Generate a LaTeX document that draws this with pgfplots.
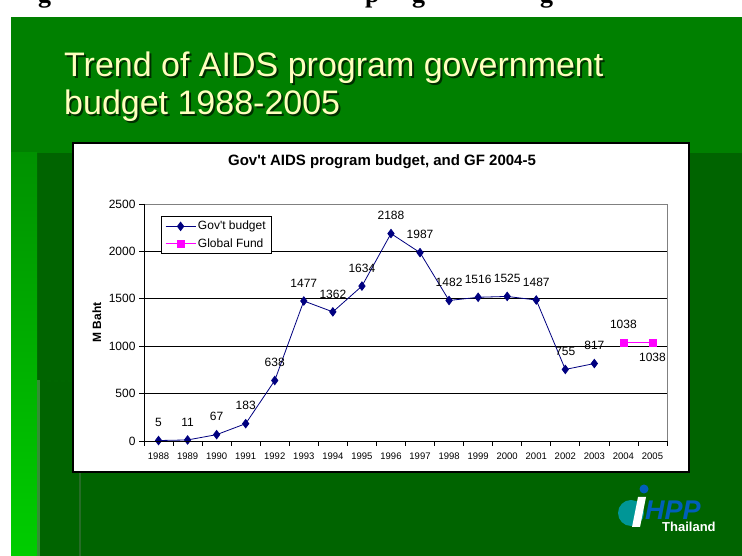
\documentclass[border=0pt]{standalone}
\usepackage{pgfplots}
\pgfplotsset{compat=1.18}
\usepackage{pgfplotstable}
\usepackage{fontspec}
\setmainfont{Liberation Sans}
\newfontfamily\serifb{Liberation Serif}
\definecolor{gmain}{RGB}{0,128,0}
\definecolor{gdark}{RGB}{0,100,0}
\definecolor{gstripTop}{RGB}{0,145,0}
\definecolor{gstripBot}{RGB}{0,205,0}
\definecolor{navyc}{RGB}{0,0,128}
\definecolor{magc}{RGB}{255,0,255}
\definecolor{titley}{RGB}{255,255,190}
\definecolor{shadowc}{RGB}{0,45,0}
\definecolor{logoteal}{RGB}{0,150,150}
\definecolor{logoblue}{RGB}{0,95,185}

\pgfplotstableread{
x y
0 5
1 11
2 67
3 183
4 638
5 1477
6 1362
7 1634
8 2188
9 1987
10 1482
11 1516
12 1525
13 1487
14 755
15 817
}\govtable
\pgfplotstableread{
x y dy
16 1038 18
17 1038 -15
}\gftable

\begin{document}
\begin{tikzpicture}
\useasboundingbox (0,0) rectangle (742pt,556pt);
\begin{scope}[shift={(0pt,556pt)}, x=1pt, y=-1pt]
  \fill[white] (0,0) rectangle (742,556);
  % cut-off heading fragments at the very top
  \begin{scope}
    \clip (0,0) rectangle (742,17);
    \node[anchor=base west, inner sep=0pt, font=\serifb\bfseries\fontsize{26}{30}\selectfont] at (38,3) {g};
    \node[anchor=base west, inner sep=0pt, font=\serifb\bfseries\fontsize{26}{30}\selectfont] at (365,3) {p};
    \node[anchor=base west, inner sep=0pt, font=\serifb\bfseries\fontsize{26}{30}\selectfont] at (412,3) {g};
    \node[anchor=base west, inner sep=0pt, font=\serifb\bfseries\fontsize{26}{30}\selectfont] at (540,3) {g};
  \end{scope}
  \fill[gmain] (11,17) rectangle (742,556);
  \fill[gdark] (37,153) rectangle (742,556);
  \shade[top color=gstripTop, bottom color=gstripBot] (11,153) rectangle (37,556);
  \fill[green!45!black!80] (37,380) rectangle (40,556);
  \draw[gdark!70!gray, line width=1.5pt] (80,472) -- (80,556);
  \draw[black!60!green, line width=2pt, dash pattern=on 4pt off 3pt] (47,381) -- (72,381);
  % slide title with shadow
  \node[anchor=base west, inner sep=0pt, text=shadowc, font=\fontsize{34}{40}\selectfont] at (66,79) {Trend of AIDS program government};
  \node[anchor=base west, inner sep=0pt, text=titley, font=\fontsize{34}{40}\selectfont] at (64,77) {Trend of AIDS program government};
  \node[anchor=base west, inner sep=0pt, text=shadowc, font=\fontsize{34}{40}\selectfont] at (66,117) {budget 1988-2005};
  \node[anchor=base west, inner sep=0pt, text=titley, font=\fontsize{34}{40}\selectfont] at (64,115) {budget 1988-2005};
  % chart frame
  \filldraw[fill=white, draw=black, line width=1.5pt] (73,143) rectangle (689,472);
  \node[font=\bfseries\fontsize{15}{18}\selectfont] at (382,162) {Gov\textquotesingle t AIDS program budget, and GF 2004-5};
  % logo
  \fill[logoteal] (631,513) circle (13);
  \fill[white] (638,497) -- (646,497) -- (640,527) -- (632,527) -- cycle;
  \fill[logoblue] (644,489) circle (4.5);
  \node[anchor=base west, inner sep=0pt, text=logoblue, font=\bfseries\itshape\fontsize{27}{30}\selectfont] at (645,520) {HPP};
  \node[anchor=base west, inner sep=0pt, text=white, font=\bfseries\fontsize{13}{15}\selectfont] at (662,532) {Thailand};
\end{scope}

\begin{axis}[
  at={(144pt,115pt)}, anchor=south west,
  width=523pt, height=237pt, scale only axis,
  xmin=-0.5, xmax=17.5, ymin=0, ymax=2500,
  clip=false,
  axis line style={draw=none},
  tick pos=left, tick align=outside,
  major tick length=5pt, minor tick length=5pt,
  xtick={0,...,17},
  xticklabels={1988,1989,1990,1991,1992,1993,1994,1995,1996,1997,1998,1999,2000,2001,2002,2003,2004,2005},
  major x tick style={draw=none},
  minor xtick={-0.5,0.5,...,17.5},
  minor x tick style={black, line width=0.75pt},
  ytick={0,500,...,2500},
  ytick style={black, line width=0.75pt},
  ymajorgrids, grid style={black, line width=0.75pt},
  /pgf/number format/assume math mode=true,
  /pgf/number format/1000 sep={},
  xticklabel style={font=\fontsize{9.5}{10}\selectfont, yshift=-3pt},
  yticklabel style={font=\fontsize{12}{14}\selectfont},
  ylabel={M Baht},
  ylabel style={at={(axis description cs:-0.09,0.5)}, anchor=center, font=\bfseries\fontsize{12}{14}\selectfont},
  legend style={at={(axis description cs:0.0325,0.949)}, anchor=north west, draw=black, fill=white,
    font=\fontsize{12}{14}\selectfont, inner xsep=4pt, inner ysep=3pt, row sep=3pt, cells={anchor=west}},
  legend image code/.code={\draw[mark repeat=2,mark phase=2,#1] plot coordinates {(0pt,0pt) (15pt,0pt) (30pt,0pt)};},
  after end axis/.code={
    \draw[gray, line width=0.75pt] (rel axis cs:0,1) -- (rel axis cs:1,1) -- (rel axis cs:1,0);
    \draw[black, line width=0.75pt] (rel axis cs:0,1) -- (rel axis cs:0,0) -- (rel axis cs:1,0);
  },
]
\addplot[color=navyc, line width=0.8pt, mark=diamond*, mark size=4.2pt, mark options={solid, fill=navyc},
  nodes near coords,
  every node near coord/.append style={font=\fontsize{12}{14}\selectfont, text=black, anchor=center, yshift=18pt}]
  table[x=x, y=y] {\govtable};
\addlegendentry{Gov\textquotesingle t budget}
\addplot[color=magc, line width=0.8pt, mark=square*, mark size=3.5pt, mark options={solid, fill=magc},
  nodes near coords,
  visualization depends on={\thisrow{dy}\as\labdy},
  every node near coord/.append style={font=\fontsize{12}{14}\selectfont, text=black, anchor=center, yshift=\labdy}]
  table[x=x, y=y] {\gftable};
\addlegendentry{Global Fund}
\end{axis}
\end{tikzpicture}
\end{document}
